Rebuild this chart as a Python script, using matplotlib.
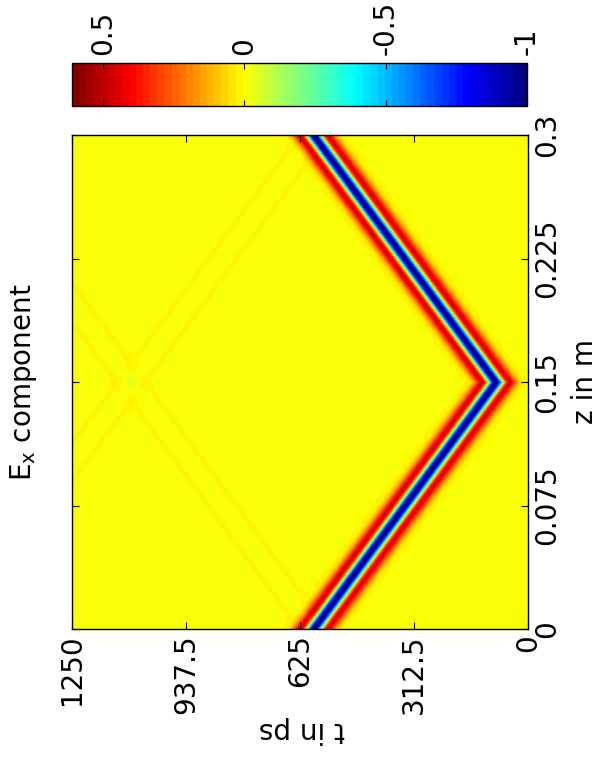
import numpy as np
import matplotlib.pyplot as plt
from matplotlib.colors import LinearSegmentedColormap

plt.rcParams['font.family'] = 'DejaVu Sans'
plt.rcParams['axes.unicode_minus'] = False
plt.rcParams['mathtext.default'] = 'regular'

# simulation domain
z_max = 0.3        # m
t_max = 1250.0     # ps
n_z = 301
n_t = 626

# excitation: pulse launched in the middle of the line
z_source = 0.15      # m
t_launch = 88.0      # ps, peak of the pulse at the source
pulse_width = 31.0   # ps
c_light = 3.0e-4     # m/ps
edge_reflection = 0.016  # weak reflection from the boundaries

# axes ticks
t_ticks = [0, 312.5, 625, 937.5, 1250]
t_labels = ['0', '312.5', '625', '937.5', '1250']
z_ticks = [0, 0.075, 0.15, 0.225, 0.3]
z_labels = ['0', '0.075', '0.15', '0.225', '0.3']
c_ticks = [0.5, 0, -0.5, -1]
c_labels = ['0.5', '0', '-0.5', '-1']
c_range = (-1.0, 0.61)

# MATLAB style jet colormap
jet_ml = LinearSegmentedColormap('jet_ml', {
    'red':   [(0, 0, 0), (0.375, 0, 0), (0.625, 1, 1), (0.875, 1, 1), (1, 0.5, 0.5)],
    'green': [(0, 0, 0), (0.125, 0, 0), (0.375, 1, 1), (0.625, 1, 1), (0.875, 0, 0), (1, 0, 0)],
    'blue':  [(0, 0.5, 0.5), (0.125, 1, 1), (0.375, 1, 1), (0.625, 0, 0), (1, 0, 0)],
}, N=64)


def wavelet(delay):
    # negative Ricker pulse, -1 at its centre
    u = delay / pulse_width
    return -(1 - 2 * u ** 2) * np.exp(-u ** 2)


t = np.linspace(0, t_max, n_t)
z = np.linspace(0, z_max, n_z)
T, Z = np.meshgrid(t, z)

# direct wave travelling both ways from the source
Ex = wavelet(T - t_launch - np.abs(Z - z_source) / c_light)
# reflections from z = 0 and z = z_max
Ex += edge_reflection * wavelet(T - t_launch - (Z + z_source) / c_light)
Ex += edge_reflection * wavelet(T - t_launch - (2 * z_max - z_source - Z) / c_light)

fig = plt.figure(figsize=(6.09, 7.65), dpi=100)
ax = fig.add_axes([72 / 609, 136 / 765, 456 / 609, 494 / 765])
cax = fig.add_axes([72 / 609, 659 / 765, 455 / 609, 43 / 765])

mesh = ax.pcolormesh(t, z, Ex, shading='gouraud', cmap=jet_ml,
                     vmin=c_range[0], vmax=c_range[1], rasterized=True)
ax.set_xlim(t_max, 0)
ax.set_ylim(0, z_max)

ax.set_xticks(t_ticks, labels=t_labels, rotation=90)
ax.yaxis.tick_right()
ax.yaxis.set_label_position('right')
ax.set_yticks(z_ticks, labels=z_labels, rotation=90, va='center')
ax.tick_params(direction='in', length=5, width=0.8, labelsize=20, pad=4,
               top=True, left=True, right=True, bottom=True)

ax.set_xlabel('t in ps', rotation=180, fontsize=20, va='center', ha='center')
ax.xaxis.set_label_coords(0.505, -0.205)
ax.set_ylabel('z in m', rotation=90, fontsize=20, va='center', ha='center')
ax.yaxis.set_label_coords(1.125, 0.5)

for s in ax.spines.values():
    s.set_linewidth(1.0)
    s.set_color('black')

fig.text(24 / 609, 0.5, 'E$_x$ component', rotation=90, fontsize=20,
         ha='center', va='center')

cbar = fig.colorbar(mesh, cax=cax, orientation='horizontal', ticks=c_ticks)
cax.invert_xaxis()
cax.xaxis.set_ticks_position('top')
cax.set_xticks(c_ticks, labels=c_labels, rotation=90)
cax.tick_params(axis='x', direction='in', length=4, width=0.8, labelsize=20,
                top=True, bottom=True, labeltop=True, labelbottom=False, pad=6)
cbar.outline.set_linewidth(1.0)

fig.savefig('out.png', dpi=100, facecolor='white')
